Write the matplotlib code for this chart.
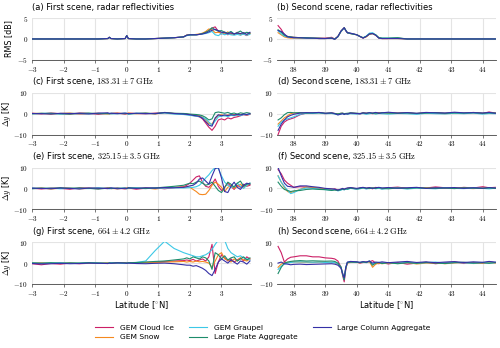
import numpy as np
import matplotlib
matplotlib.use("Agg")
import matplotlib.pyplot as plt
from matplotlib.ticker import FuncFormatter

# latitude grids for the two scenes
lat1 = [-3.0, -2.7, -2.4, -2.1, -1.8, -1.5, -1.2, -0.9, -0.6, -0.55, -0.5, -0.3, -0.05, 0.0, 0.05,
        0.3, 0.6, 0.9, 1.2, 1.5, 1.8, 1.9, 2.0, 2.1, 2.2, 2.3, 2.4, 2.5, 2.6, 2.7, 2.8, 2.9,
        3.0, 3.1, 3.2, 3.3, 3.4, 3.5, 3.6, 3.7, 3.8, 3.9]
lat2 = [37.5, 37.6, 37.7, 37.8, 37.9, 38.0, 38.2, 38.4, 38.6, 38.8, 39.0, 39.2, 39.3, 39.4, 39.5,
        39.55, 39.6, 39.65, 39.7, 39.8, 40.0, 40.1, 40.2, 40.3, 40.4, 40.5, 40.6, 40.7, 40.8,
        41.0, 41.3, 41.6, 41.9, 42.2, 42.5, 42.8, 43.1, 43.4, 43.7, 44.0, 44.2, 44.4]

habits = ["GEM Cloud Ice", "GEM Snow", "GEM Graupel", "Large Plate Aggregate", "Large Column Aggregate"]
colors = ["#cc1f66", "#f5891f", "#3cc8e6", "#1d8c6b", "#3530a6"]

# (a) first scene, radar RMS [dB]
radar1_ice = [0.0, 0.0, 0.0, 0.0, 0.0, 0.0, 0.0, 0.0, 0.1, 0.4, 0.1, 0.0, 0.1, 0.8, 0.1, 0.0, 0.0, 0.1, 0.2, 0.3, 0.5,
              0.9, 1.0, 1.0, 1.0, 1.1, 1.3, 1.6, 2.0, 2.6, 2.9, 1.8, 1.2, 1.7, 1.0, 1.4, 1.1, 1.6, 1.0, 1.2, 0.8, 1.4]
radar1_snow = [0.0, 0.0, 0.0, 0.0, 0.0, 0.0, 0.0, 0.0, 0.1, 0.4, 0.1, 0.0, 0.1, 0.8, 0.1, 0.0, 0.0, 0.1, 0.2, 0.3, 0.5,
               0.9, 1.0, 1.0, 1.1, 1.2, 1.4, 1.8, 2.4, 2.2, 1.5, 1.6, 1.4, 1.2, 1.7, 1.1, 1.2, 1.4, 1.0, 1.5, 0.9, 1.3]
radar1_graupel = [0.0, 0.0, 0.0, 0.0, 0.0, 0.0, 0.0, 0.0, 0.1, 0.4, 0.1, 0.0, 0.1, 0.8, 0.1, 0.0, 0.0, 0.1, 0.2, 0.3, 0.5,
                  0.8, 0.9, 1.0, 1.0, 1.1, 1.2, 1.3, 1.5, 1.8, 1.0, 0.8, 1.3, 1.0, 1.2, 1.0, 0.9, 1.1, 0.9, 1.2, 0.9, 1.1]
radar1_plate = [0.0, 0.0, 0.0, 0.0, 0.0, 0.0, 0.0, 0.0, 0.1, 0.4, 0.1, 0.0, 0.1, 0.8, 0.1, 0.0, 0.0, 0.1, 0.2, 0.3, 0.5,
                0.9, 1.0, 1.0, 1.0, 1.1, 1.3, 1.6, 2.0, 2.7, 2.2, 1.9, 2.0, 1.6, 1.4, 1.8, 1.2, 1.5, 1.9, 1.3, 1.6, 1.4]
radar1_column = [0.0, 0.0, 0.0, 0.0, 0.0, 0.0, 0.0, 0.0, 0.1, 0.4, 0.1, 0.0, 0.1, 0.8, 0.1, 0.0, 0.0, 0.1, 0.2, 0.3, 0.5,
                 0.9, 1.0, 1.0, 1.0, 1.1, 1.2, 1.4, 1.7, 2.1, 2.3, 2.0, 1.6, 1.5, 1.3, 1.5, 1.2, 1.4, 1.3, 1.5, 1.1, 1.6]

# (c) first scene, 183.31 +- 7 GHz [K]
c183_1_ice = [0.2, -0.1, 0.3, 0.0, -0.2, 0.4, 0.1, -0.3, 0.2, 0.0, 0.1, 0.3, -0.2, 0.0, 0.2, 0.1, -0.1, 0.3, 0.5, 0.0, -0.3,
              -0.4, -0.6, -0.9, -1.2, -1.5, -2.5, -4.5, -6.5, -8.0, -6.0, -3.0, -2.5, -3.0, -2.0, -2.5, -1.8, -1.5, -1.0, -0.5, -0.8, -0.3]
c183_1_snow = [0.1, 0.2, -0.2, 0.1, 0.3, -0.1, 0.0, 0.2, -0.2, 0.1, 0.0, 0.2, 0.1, -0.1, 0.3, 0.0, 0.2, -0.1, 0.4, 0.1, 0.0,
               -0.2, -0.4, -0.6, -0.8, -1.0, -1.6, -3.0, -4.8, -5.0, -2.5, -0.8, -0.5, -1.0, -0.6, -0.8, -0.4, -0.9, -0.5, -0.2, -0.6, -0.1]
c183_1_graupel = [0.0, 0.2, 0.1, -0.2, 0.1, 0.2, -0.1, 0.1, 0.0, 0.2, -0.1, 0.0, 0.2, 0.1, -0.2, 0.2, 0.0, 0.1, 0.3, -0.2, -0.4,
                  -0.6, -0.8, -1.0, -1.2, -1.4, -1.8, -2.5, -4.0, -5.5, -3.5, -1.5, -1.2, -1.0, -1.4, -0.8, -1.0, -0.6, -0.9, -0.4, -0.5, -0.2]
c183_1_plate = [-0.1, 0.1, 0.2, 0.0, -0.2, 0.1, 0.3, 0.0, 0.1, -0.1, 0.2, 0.1, 0.0, 0.2, -0.1, 0.1, 0.3, 0.0, 0.6, 0.2, 0.1,
                0.0, -0.2, -0.3, -0.4, -0.6, -1.0, -1.8, -3.0, -2.5, 0.5, 0.8, 0.5, 0.2, 0.6, 0.0, 0.3, -0.2, 0.4, 0.1, 0.5, 0.2]
c183_1_column = [0.1, 0.0, -0.2, 0.2, 0.1, 0.0, -0.1, 0.3, 0.4, 0.1, 0.2, 0.0, 0.3, 0.1, 0.0, 0.2, 0.1, 0.0, 0.5, 0.1, -0.2,
                 -0.3, -0.5, -0.8, -1.0, -1.3, -2.2, -3.8, -5.5, -6.0, -2.0, -0.5, -1.0, -0.6, -0.9, -0.5, -0.7, -0.3, -0.6, -0.2, -0.4, 0.0]

# (e) first scene, 325.15 +- 3.5 GHz [K]
c325_1_ice = [0.1, -0.3, 0.2, 0.0, -0.4, 0.3, 0.1, -0.2, 0.3, 0.0, -0.1, 0.2, -0.3, 0.0, 0.2, -0.4, 0.1, 0.3, -0.2, 0.4, 0.8,
              1.5, 2.5, 4.0, 5.5, 6.0, 3.0, 1.0, 0.5, 2.0, 4.5, 1.0, -1.0, 0.5, 2.5, 1.0, -0.5, 1.5, 0.5, 2.0, 1.0, 1.5]
c325_1_snow = [0.0, 0.2, -0.3, 0.1, 0.3, -0.2, 0.0, 0.2, -0.1, 0.3, 0.0, -0.2, 0.1, 0.3, -0.1, 0.0, 0.2, -0.3, 0.3, 0.5, 0.6,
               0.8, 0.5, -0.5, -1.5, -2.8, -3.0, -2.8, -1.0, 1.5, 3.0, 2.0, 0.5, -1.5, 0.5, 1.5, 0.0, 1.0, 2.0, 0.5, 1.5, 2.0]
c325_1_graupel = [0.2, 0.0, 0.1, -0.2, 0.2, 0.0, -0.1, 0.3, 0.0, -0.2, 0.1, 0.0, 0.2, -0.1, 0.1, 0.3, 0.0, 0.2, 0.1, 0.3, 0.2,
                  0.3, 0.4, 0.5, 0.8, 1.5, 3.0, 5.0, 6.5, 8.5, 10.0, 9.5, 6.0, 3.0, 1.5, 0.5, 1.0, 2.5, 1.0, 0.0, 1.5, 2.5]
c325_1_plate = [-0.2, 0.1, 0.0, 0.3, -0.1, 0.2, 0.0, -0.3, 0.1, 0.2, -0.1, 0.1, 0.0, -0.2, 0.3, 0.1, -0.1, 0.2, 0.6, 1.0, 1.5,
                2.0, 2.5, 2.2, 3.0, 3.5, 2.5, 1.5, 2.0, 3.0, 1.0, -1.0, -2.0, 0.5, 3.0, 2.0, 0.5, 2.5, 3.5, 1.0, 2.0, 2.5]
c325_1_column = [0.1, 0.0, -0.2, 0.2, 0.0, -0.3, 0.2, 0.1, -0.1, 0.0, 0.3, -0.2, 0.1, 0.0, 0.2, 0.0, 0.3, 0.1, 0.4, 0.3, 0.5,
                 0.8, 1.2, 1.5, 2.5, 4.5, 5.0, 3.5, 2.0, 6.0, 9.5, 10.0, 5.0, -1.5, -2.0, 1.0, 3.0, 0.5, -0.5, 1.5, 2.5, 2.0]

# (g) first scene, 664 +- 4.2 GHz [K]
c664_1_ice = [-0.3, -0.8, -0.2, -0.5, 0.0, -0.3, -0.1, 0.1, -0.2, 0.0, 0.2, -0.1, 0.0, 0.3, 0.1,
              0.2, 0.3, 0.5, 0.8, 1.0, 1.2,
              1.5, 1.2, 1.8, 1.0, 1.5, 2.0, 1.0, 3.0, 9.0, -5.0, 0.5, 4.0, 2.5, 1.0, 2.0, 0.5, 1.5, 2.5, 1.0, 3.0, 2.0]
c664_1_snow = [0.0, 0.1, -0.2, 0.2, 0.0, -0.1, 0.1, 0.0, 0.2, -0.1, 0.0, 0.1, 0.2, 0.0, 0.1,
               0.1, 0.3, 0.2, 0.5, 0.6, 0.8,
               0.5, 0.8, 0.5, 1.0, 0.6, 0.8, 0.5, 0.0, -2.0, 1.0, 4.0, 5.0, 2.0, 1.5, 0.5, 2.0, 1.0, 2.5, 1.5, 1.0, 2.0]
c664_1_graupel = [0.1, -0.2, 0.0, 0.2, -0.1, 0.0, 0.2, 0.1, -0.1, 0.0, 0.2, 0.0, -0.2, 0.1, 0.0,
                  0.3, 1.0, 6.0, 10.5, 7.0, 5.0,
                  4.5, 4.0, 3.5, 3.0, 3.0, 3.5, 4.0, 5.0, 6.5, 9.0, 11.0, 10.5, 11.0, 7.0, 5.0, 4.0, 3.0, 3.5, 2.5, 2.0, 1.5]
c664_1_plate = [0.1, 0.0, 0.2, -0.1, 0.1, 0.0, 0.2, 0.0, -0.1, 0.1, 0.0, 0.2, 0.1, 0.0, 0.2,
                0.3, 0.5, 0.8, 1.0, 1.5, 2.0,
                2.5, 2.0, 3.0, 2.5, 2.0, 3.0, 2.5, 1.0, -3.0, 5.0, 4.0, 2.0, 3.5, 1.5, 2.5, 3.0, 1.0, 2.0, 3.0, 1.5, 2.5]
c664_1_column = [-0.2, -0.4, -0.3, -0.1, -0.3, -0.2, 0.0, -0.1, -0.2, 0.0, -0.1, 0.1, 0.0, -0.1, 0.0,
                 -0.2, -0.3, -0.1, 0.0, -0.3, -0.8,
                 -1.0, -1.0, -1.5, -1.2, -1.8, -2.5, -3.5, -5.0, -6.0, -3.0, 0.5, 2.0, 1.0, 0.0, 1.5, 0.5, -0.5, 1.0, 0.5, -0.5, 1.0]

# (b) second scene, radar RMS [dB]
radar2_ice = [3.2, 2.3, 1.0, 0.6, 0.5, 0.4, 0.3, 0.3, 0.2, 0.2, 0.2, 0.4, 0.0, 0.6, 1.9, 2.3, 2.7, 2.0, 1.5, 1.3,
              1.0, 0.6, 0.2, 0.6, 1.2, 1.3, 0.9, 0.2, 0.1, 0.1, 0.2, 0.0, 0.0, 0.0, 0.0, 0.0, 0.0, 0.0, 0.0, 0.0, 0.0, 0.0]
radar2_snow = [1.5, 1.0, 0.5, 0.3, 0.2, 0.2, 0.2, 0.2, 0.2, 0.1, 0.1, 0.2, 0.0, 0.5, 1.8, 2.2, 2.6, 2.0, 1.5, 1.3,
               1.0, 0.6, 0.3, 0.5, 1.1, 1.3, 0.9, 0.3, 0.1, 0.1, 0.1, 0.0, 0.0, 0.0, 0.0, 0.0, 0.0, 0.0, 0.0, 0.0, 0.0, 0.0]
radar2_graupel = [2.0, 1.2, 0.7, 0.5, 0.4, 0.3, 0.3, 0.2, 0.2, 0.1, 0.1, 0.2, 0.0, 0.5, 1.8, 2.2, 2.6, 2.0, 1.5, 1.3,
                  1.0, 0.6, 0.3, 0.7, 1.4, 1.5, 1.0, 0.3, 0.2, 0.2, 0.2, 0.0, 0.0, 0.0, 0.0, 0.0, 0.0, 0.0, 0.0, 0.0, 0.0, 0.0]
radar2_plate = [2.2, 1.6, 0.9, 0.6, 0.5, 0.4, 0.3, 0.3, 0.2, 0.2, 0.1, 0.2, 0.0, 0.6, 1.9, 2.3, 2.7, 2.1, 1.5, 1.3,
                1.0, 0.6, 0.3, 0.6, 1.2, 1.3, 1.0, 0.3, 0.2, 0.2, 0.3, 0.0, 0.0, 0.0, 0.0, 0.0, 0.0, 0.0, 0.0, 0.0, 0.0, 0.0]
radar2_column = [2.0, 1.8, 1.2, 0.5, 0.4, 0.3, 0.3, 0.2, 0.2, 0.1, 0.1, 0.2, -0.1, 0.6, 1.9, 2.3, 2.7, 2.0, 1.5, 1.4,
                 1.0, 0.6, 0.2, 0.6, 1.2, 1.3, 0.9, 0.2, 0.1, 0.1, 0.1, 0.0, 0.0, 0.0, 0.0, 0.0, 0.0, 0.0, 0.0, 0.0, 0.0, 0.0]

# (d) second scene, 183.31 +- 7 GHz [K]
c183_2_ice = [-10.0, -6.0, -4.0, -3.0, -2.5, -2.0, -0.5, 0.3, 0.2, 0.5, 0.0, 0.3, 0.1, -0.2, 0.2, 0.0, -0.3, 0.1, -0.2, 0.3,
              0.0, -0.2, 0.4, 0.1, 0.3, 0.0, 0.2, 0.5, 0.1, 0.3, 0.2, 0.4, 0.0, 0.3, 0.5, 0.2, 0.4, 0.1, 0.6, 0.2, 0.8, 0.3]
c183_2_snow = [-5.0, -3.5, -2.0, -1.0, 0.0, 0.3, 0.4, 0.2, 0.3, 0.4, 0.1, 0.2, 0.0, -0.3, 0.1, 0.2, -0.2, 0.0, -0.1, 0.2,
               0.1, 0.0, 0.3, 0.2, 0.1, 0.3, 0.0, 0.2, 0.4, 0.1, 0.3, 0.2, 0.1, 0.4, 0.2, 0.0, 0.3, 0.2, 0.4, 0.1, 0.3, 0.2]
c183_2_graupel = [-6.0, -4.0, -3.0, -2.5, -2.0, -1.5, -0.3, 0.2, 0.1, 0.3, 0.0, 0.1, -0.2, -0.5, -0.2, 0.0, -0.4, -0.1, -0.3, 0.0,
                  -0.2, -0.1, 0.1, -0.3, 0.0, 0.2, -0.2, 0.1, 0.0, -0.2, 0.1, 0.0, -0.3, 0.2, 0.0, -0.1, 0.2, 0.0, 0.3, -0.2, 0.1, 0.0]
c183_2_plate = [-3.0, -2.0, -0.5, 0.5, 0.6, 0.4, 0.5, 0.3, 0.4, 0.5, 0.2, 0.3, 0.1, -0.1, 0.2, 0.3, 0.0, 0.1, 0.2, 0.4,
                0.2, 0.1, 0.3, 0.2, 0.4, 0.1, 0.3, 0.2, 0.5, 0.3, 0.2, 0.4, 0.1, 0.3, 0.5, 0.2, 0.4, 0.3, 0.5, 0.2, 0.4, 0.3]
c183_2_column = [-8.0, -5.0, -3.0, -1.5, -0.8, -0.3, 0.3, 0.5, 0.4, 0.6, 0.2, 0.4, 0.0, -0.6, -0.2, 0.1, -0.4, 0.0, -0.2, 0.3,
                 0.1, 0.0, 0.4, 0.2, 0.5, 0.3, 0.6, 0.2, 0.4, 0.7, 0.3, 0.5, 0.2, 0.6, 0.4, 0.3, 0.7, 0.4, 0.5, 0.3, 0.6, 0.2]

# (f) second scene, 325.15 +- 3.5 GHz [K]
c325_2_ice = [9.0, 7.0, 4.0, 2.5, 1.5, 0.5, 0.8, 0.6, 0.3, 0.0, -0.3, -0.5, -0.2, -0.8, -0.5, -0.3, -0.6, -0.2, 0.0, 0.2,
              -0.3, 0.1, 0.4, 0.0, 0.3, -0.2, 0.5, 0.1, -0.1, 0.3, 0.6, 0.0, 0.4, 0.2, 0.7, 0.3, 0.0, 0.5, 0.2, 0.8, 0.3, 0.5]
c325_2_snow = [6.0, 3.0, 0.5, -1.5, -2.0, -1.5, -0.5, 0.8, 0.5, 0.2, -0.2, -0.4, -0.6, -1.0, -0.5, -0.2, -0.5, -0.3, 0.0, 0.3,
               -0.2, 0.0, 0.3, -0.1, 0.2, 0.4, 0.0, 0.2, -0.2, 0.1, 0.3, -0.1, 0.2, 0.4, 0.1, 0.0, 0.3, 0.1, -0.1, 0.2, 0.4, 0.1]
c325_2_graupel = [6.0, 3.0, 1.0, -1.0, -2.5, -2.0, -0.5, 0.2, 0.0, -0.3, -0.6, -0.8, -0.5, -1.2, -0.8, -0.5, -0.7, -0.3, -0.5, 0.0,
                  -0.4, -0.2, 0.2, -0.3, 0.0, 0.2, -0.2, 0.1, -0.4, 0.0, 0.2, -0.3, 0.1, 0.0, -0.2, 0.3, 0.0, -0.1, 0.2, 0.0, -0.2, 0.1]
c325_2_plate = [3.0, 1.0, -0.5, -1.0, -1.5, -1.2, -1.0, -0.5, -0.3, -0.5, -0.6, -1.0, -0.8, -1.0, -0.6, -0.4, -0.6, -0.2, -0.3, 0.1,
                -0.2, 0.0, 0.3, 0.1, -0.1, 0.2, 0.0, 0.3, 0.1, -0.2, 0.2, 0.0, 0.3, 0.1, 0.0, 0.2, -0.1, 0.3, 0.1, 0.0, 0.2, 0.0]
c325_2_column = [10.0, 6.0, 2.5, 1.0, 0.8, 0.5, 1.2, 1.2, 0.8, 0.5, 0.0, -0.2, -0.4, -0.8, -0.3, 0.0, -0.4, 0.0, 0.2, 0.4,
                 0.0, 0.3, 0.5, 0.1, 0.4, 0.0, 0.3, 0.5, 0.2, 0.4, 0.1, 0.3, 0.5, 0.0, 0.3, 0.2, 0.4, 0.0, 0.3, 0.1, 0.4, 0.2]

# (h) second scene, 664 +- 4.2 GHz [K]
c664_2_ice = [8.0, 5.0, 0.5, 2.0, 2.8, 3.0, 3.5, 3.5, 3.0, 3.0, 2.5, 2.3, 2.0, 1.0, -2.0, -6.0, -9.0, -3.0, 0.2, 0.3,
              0.5, 0.0, 0.3, 0.5, 0.6, 1.2, 0.0, -0.3, 0.2, -0.4, 0.3, -0.5, 0.0, 0.4, -0.3, 0.2, 0.6, -0.2, 0.3, 0.0, 0.5, 0.2]
c664_2_snow = [-2.0, -0.5, 0.2, 0.3, 0.5, 0.6, 0.5, 0.4, 0.3, 0.5, 0.4, 0.3, 0.2, -0.5, -2.0, -5.0, -7.0, -2.5, 0.0, 0.5,
               0.3, 0.2, 0.5, 0.3, 0.8, -2.0, -0.5, 0.0, -0.3, 0.1, -0.2, 0.3, -0.4, 0.0, 0.2, -0.3, 0.1, 0.3, -0.2, 0.0, 0.3, 0.0]
c664_2_graupel = [-3.0, -1.5, -0.5, 0.0, 0.3, 0.5, 0.6, 0.5, 0.4, 0.5, 0.3, 0.4, 0.2, -0.3, -2.0, -5.0, -7.5, -2.0, 0.2, 0.6,
                  0.4, 0.3, 0.6, 0.2, 1.0, -0.5, 0.2, 0.4, 0.0, 0.3, -0.1, 0.4, 0.0, 0.2, 0.5, 0.0, 0.3, 0.1, -0.1, 0.3, 0.0, 0.2]
c664_2_plate = [-5.0, -2.0, 0.0, 0.5, 0.8, 1.0, 1.2, 1.0, 1.1, 1.0, 0.9, 1.0, 0.8, 0.0, -2.0, -5.5, -8.0, -2.5, 0.3, 0.5,
                0.4, 0.2, 0.5, 0.3, 0.9, -1.0, 0.0, 0.3, -0.2, 0.2, -0.3, 0.2, -0.1, 0.3, 0.0, -0.2, 0.2, 0.4, 0.0, 0.2, -0.1, 0.3]
c664_2_column = [0.0, 0.5, -0.3, -0.5, -0.8, -0.6, -0.5, -0.7, -0.6, -0.5, -0.4, -0.3, -0.5, -1.0, -2.5, -5.0, -7.0, -2.0, 0.5, 0.8,
                 0.6, 0.4, 0.7, 0.5, 1.0, 0.0, 0.5, 0.3, 0.6, 0.2, 0.5, 0.8, 0.3, 0.6, 0.2, 0.5, 0.7, 0.3, 0.6, 0.4, 0.8, 0.5]

panels = [
    ("(a) First scene, radar reflectivities", lat1,
     [radar1_ice, radar1_snow, radar1_graupel, radar1_plate, radar1_column], 5, "RMS [dB]"),
    ("(b) Second scene, radar reflectivities", lat2,
     [radar2_ice, radar2_snow, radar2_graupel, radar2_plate, radar2_column], 5, None),
    (r"(c) First scene, $183.31 \pm 7\ \mathrm{GHz}$", lat1,
     [c183_1_ice, c183_1_snow, c183_1_graupel, c183_1_plate, c183_1_column], 10, r"$\Delta y$ [K]"),
    (r"(d) Second scene, $183.31 \pm 7\ \mathrm{GHz}$", lat2,
     [c183_2_ice, c183_2_snow, c183_2_graupel, c183_2_plate, c183_2_column], 10, None),
    (r"(e) First scene, $325.15 \pm 3.5\ \mathrm{GHz}$", lat1,
     [c325_1_ice, c325_1_snow, c325_1_graupel, c325_1_plate, c325_1_column], 10, r"$\Delta y$ [K]"),
    (r"(f) Second scene, $325.15 \pm 3.5\ \mathrm{GHz}$", lat2,
     [c325_2_ice, c325_2_snow, c325_2_graupel, c325_2_plate, c325_2_column], 10, None),
    (r"(g) First scene, $664 \pm 4.2\ \mathrm{GHz}$", lat1,
     [c664_1_ice, c664_1_snow, c664_1_graupel, c664_1_plate, c664_1_column], 10, r"$\Delta y$ [K]"),
    (r"(h) Second scene, $664 \pm 4.2\ \mathrm{GHz}$", lat2,
     [c664_2_ice, c664_2_snow, c664_2_graupel, c664_2_plate, c664_2_column], 10, None),
]

plt.rcParams["font.family"] = ["DejaVu Sans"]
plt.rcParams["mathtext.fontset"] = "cm"

fig, axes = plt.subplots(4, 2, figsize=(5.0, 3.48), dpi=100)
fig.subplots_adjust(left=0.064, right=0.992, top=0.948, bottom=0.184, wspace=0.12, hspace=0.79)

math_fmt = FuncFormatter(lambda v, p: f"${v:g}$")

for i, (title, lat, series, ylim, ylabel) in enumerate(panels):
    ax = axes[i // 2, i % 2]
    for vals, name, col in zip(series, habits, colors):
        ax.plot(lat, vals, color=col, lw=0.8, label=name)
    ax.set_ylim(-ylim, ylim)
    ax.set_yticks([-ylim, 0, ylim])
    if i % 2 == 0:
        ax.set_xlim(-3.0, 3.93)
        ax.set_xticks([-3, -2, -1, 0, 1, 2, 3])
    else:
        ax.set_xlim(37.47, 44.42)
        ax.set_xticks([38, 39, 40, 41, 42, 43, 44])
    ax.xaxis.set_major_formatter(math_fmt)
    ax.yaxis.set_major_formatter(math_fmt)
    ax.grid(True, color="#e4e4e4", lw=0.8)
    ax.set_axisbelow(True)
    for s in ["top", "right", "left"]:
        ax.spines[s].set_visible(False)
    ax.spines["bottom"].set_color("#444444")
    ax.spines["bottom"].set_linewidth(0.6)
    ax.tick_params(axis="x", labelsize=5.2, length=2, width=0.5, pad=1.5, color="#444444")
    ax.tick_params(axis="y", labelsize=5.2, length=0, pad=3)
    ax.set_title(title, loc="left", fontsize=6, pad=6)
    if ylabel:
        ax.set_ylabel(ylabel, fontsize=5.8)
        ax.yaxis.set_label_coords(-0.085, 0.5)
    if i >= 6:
        ax.set_xlabel(r"Latitude [$^{\circ}$N]", fontsize=6, labelpad=1)

handles, labels = axes[0, 0].get_legend_handles_labels()
fig.legend(handles, labels, loc="upper center", bbox_to_anchor=(0.526, 0.083), ncol=3,
           frameon=False, fontsize=5.4, handlelength=2.4, handletextpad=0.9,
           columnspacing=2.0, labelspacing=0.45, borderpad=0.2)

fig.savefig("out.png", dpi=100)
